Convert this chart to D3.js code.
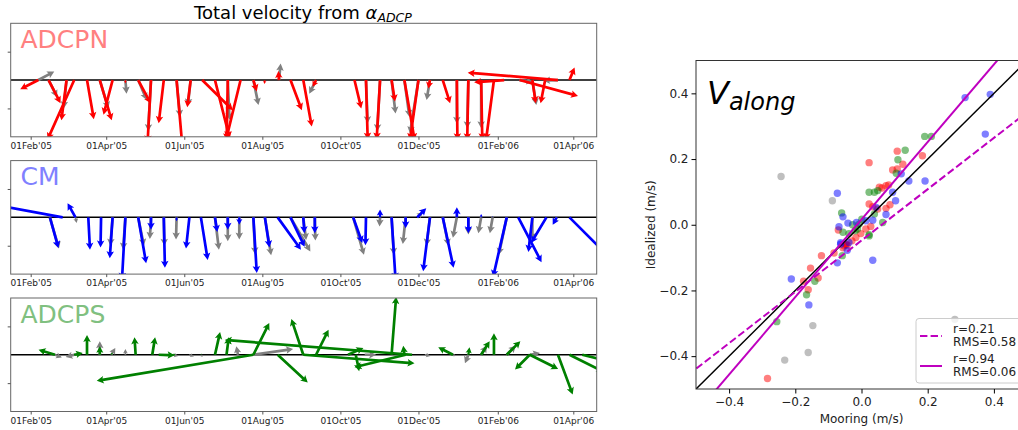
<!DOCTYPE html>
<html>
<head>
<meta charset="utf-8">
<script src="https://cdn.jsdelivr.net/npm/d3@7"></script>
<style>
  body { margin: 0; background: #fff; }
  svg { font-family: "DejaVu Sans", sans-serif; }
</style>
</head>
<body>
<div id="chart"></div>
<script>
// quiver records: [date, u, v]  (colored = idealized, gray = mooring)
var adcpnIdeal = [
  ["2005-02-07",-0.32,-0.16],["2005-02-15",0.21,-0.41],["2005-03-01",-0.09,-0.71],
  ["2005-03-07",-0.47,-1.05],["2005-03-17",0.12,-0.69],["2005-03-27",0.21,-0.71],
  ["2005-04-06",-0.16,-0.61],["2005-04-16",0.0,-0.06],["2005-04-26",0.22,-0.41],
  ["2005-05-06",-0.06,-1.1],["2005-05-16",-0.09,-0.76],["2005-05-26",0.1,-1.15],
  ["2005-06-06",-0.06,-0.48],["2005-06-15",0.54,-0.53],["2005-06-25",0.26,-1.03],
  ["2005-07-05",-0.02,-1.06],["2005-07-15",-0.25,-1.03],["2005-07-25",0.06,-0.2],
  ["2005-08-03",-0.01,-0.07],["2005-08-14",-0.01,0.16],["2005-08-23",0.2,-0.53],
  ["2005-09-02",0.15,-0.82],["2005-09-12",-0.06,-0.12],["2005-10-12",0.12,-0.5],
  ["2005-10-21",0.03,-1.05],["2005-11-01",-0.06,-1.05],["2005-11-10",0.06,-0.38],
  ["2005-11-20",0.18,-1.06],["2005-12-01",-0.15,-1.06],["2005-12-10",-0.03,-0.15],
  ["2005-12-20",0.13,-0.41],["2005-12-31",0.01,-1.06],["2006-01-09",-0.02,-1.06],
  ["2006-01-19",0.02,-1.06],["2006-01-29",-0.14,-1.06],["2006-02-06",-0.53,-0.04],
  ["2006-02-18",1.03,-0.28],["2006-02-28",0.06,-0.41],["2006-03-10",-0.08,-0.41],
  ["2006-03-20",-1.59,0.13],["2006-03-29",0.09,0.22]
];
var adcpnMoor = [
  ["2005-02-07",0.28,0.15],["2005-02-15",0.15,-0.3],["2005-03-01",-0.05,-0.5],
  ["2005-03-27",0.15,-0.5],["2005-04-16",0.02,-0.24],["2005-04-26",0.15,-0.35],
  ["2005-05-06",-0.05,-0.9],["2005-05-26",0.06,-0.65],["2005-06-06",-0.05,-0.45],
  ["2005-07-05",0.03,-0.7],["2005-07-25",0.09,-0.44],["2005-08-14",0.03,0.29],
  ["2005-09-12",-0.12,-0.24],["2005-10-21",0.03,-0.76],["2005-11-01",-0.05,-0.9],
  ["2005-11-10",0.07,-0.59],["2005-11-20",0.09,-0.65],["2005-12-01",-0.15,-0.94],
  ["2005-12-10",-0.06,-0.35],["2005-12-31",0.0,-0.77],["2006-01-09",-0.02,-0.85],
  ["2006-01-19",0.0,-0.85],["2006-02-06",-0.05,0.0],["2006-02-18",0.24,-0.03],
  ["2006-02-28",0.07,-0.44],["2006-03-20",-0.26,-0.01]
];
var cmIdeal = [
  ["2005-02-16",0.15,-0.54],["2005-02-26",-1.2,0.22],["2005-03-08",-0.14,0.25],
  ["2005-03-18",0.03,-0.57],["2005-03-28",-0.01,-0.53],["2005-04-06",-0.05,-0.72],
  ["2005-04-16",-0.06,-1.1],["2005-04-26",0.14,-0.81],["2005-05-06",0.0,-0.22],
  ["2005-05-16",0.02,-0.89],["2005-05-26",0.0,-0.07],["2005-06-05",-0.06,-0.55],
  ["2005-06-14",0.12,-0.75],["2005-06-25",0.04,-0.26],["2005-07-05",0.0,-0.22],
  ["2005-07-14",0.0,-0.13],["2005-07-25",0.06,-0.98],["2005-08-03",0.08,-0.53],
  ["2005-08-13",0.41,-0.57],["2005-08-23",0.25,-0.52],["2005-09-02",0.02,-0.28],
  ["2005-09-11",0.0,-0.28],["2005-10-11",0.16,-0.45],["2005-10-21",-0.01,-0.49],
  ["2005-11-01",0.0,0.14],["2005-11-10",0.07,-1.1],["2005-11-21",0.0,-0.19],
  ["2005-11-30",0.16,0.16],["2005-12-10",-0.12,-0.95],["2005-12-20",0.19,-0.89],
  ["2005-12-31",0.0,0.18],["2006-01-09",0.0,-0.28],["2006-01-19",0.0,0.06],
  ["2006-01-28",0.0,0.02],["2006-02-08",-0.24,-1.05],["2006-02-17",0.41,-0.79],
  ["2006-02-28",-0.07,-0.61],["2006-03-11",-0.27,-0.45],["2006-03-19",-0.07,-0.13],
  ["2006-03-29",0.6,-0.6]
];
var cmMoor = [
  ["2005-02-16",0.16,-0.55],["2005-03-08",0.02,-0.1],["2005-04-06",-0.04,-0.5],
  ["2005-04-16",-0.04,-0.57],["2005-04-26",0.1,-0.5],["2005-05-06",-0.02,-0.38],
  ["2005-05-16",0.01,-0.5],["2005-05-26",-0.01,-0.39],["2005-06-25",0.07,-0.57],
  ["2005-07-05",0.0,-0.42],["2005-07-14",0.0,-0.39],["2005-07-25",0.03,-0.65],
  ["2005-08-03",0.11,-0.67],["2005-08-23",0.35,-0.6],["2005-09-02",0.05,-0.4],
  ["2005-09-11",0.01,-0.41],["2005-10-11",0.19,-0.66],["2005-11-01",-0.01,-0.16],
  ["2005-11-10",0.04,-0.66],["2005-11-21",-0.05,-0.47],["2005-11-30",0.1,0.09],
  ["2005-12-10",-0.06,-0.5],["2005-12-20",0.1,-0.5],["2005-12-31",-0.07,-0.36],
  ["2006-01-09",0.0,-0.3],["2006-01-19",-0.05,-0.28],["2006-01-28",-0.05,-0.28],
  ["2006-02-08",-0.14,-0.66],["2006-02-28",0.0,-0.4],["2006-03-19",-0.06,-0.12]
];
var adcpsIdeal = [
  ["2005-02-20",-0.29,0.09],["2005-03-07",0.15,0.03],["2005-03-17",0.0,0.35],
  ["2005-03-27",0.0,0.15],["2005-04-05",0.02,0.04],["2005-04-24",-0.02,0.31],
  ["2005-05-07",0.05,0.31],["2005-05-12",0.28,-0.01],["2005-05-23",0.05,0.0],
  ["2005-06-14",0.01,0.02],["2005-06-25",0.09,0.4],["2005-07-04",0.04,0.31],
  ["2005-07-25",-2.76,-0.46],["2005-07-25",0.28,0.56],["2005-08-13",0.53,-0.49],
  ["2005-09-02",-0.21,0.63],["2005-09-02",1.96,-0.15],["2005-09-12",0.22,0.44],
  ["2005-10-07",0.27,0.12],["2005-10-13",0.06,-0.29],["2005-11-10",0.08,1.02],
  ["2005-11-20",-0.02,0.16],["2005-11-21",-0.9,-0.22],["2005-11-26",-3.3,0.26],
  ["2005-12-28",-0.26,0.13],["2006-01-09",0.02,0.13],["2006-01-19",0.15,0.24],
  ["2006-01-29",0.0,0.38],["2006-02-08",0.24,0.24],["2006-02-26",-0.26,-0.26],
  ["2006-02-26",0.5,-0.25],["2006-03-20",0.26,-0.7],["2006-03-29",0.6,-0.3],
  ["2006-04-08",0.4,-0.1]
];
var adcpsMoor = [
  ["2005-02-20",0.12,-0.05],["2005-03-07",-0.15,-0.04],["2005-03-27",0.0,0.24],
  ["2005-04-05",0.07,0.12],["2005-04-16",0.0,0.1],["2005-05-23",0.1,-0.02],
  ["2005-06-05",0.08,-0.03],["2005-06-14",0.03,-0.04],["2005-07-13",-0.03,0.15],
  ["2005-07-25",0.7,0.1],["2005-10-20",0.2,0.0],["2005-12-06",0.1,-0.02],
  ["2005-12-28",0.05,-0.02],["2006-01-09",-0.06,-0.15],["2006-01-19",0.1,0.16],
  ["2006-02-08",0.16,0.16],["2006-02-26",0.18,0.03]
];
var tickDates = ["2005-02-01","2005-04-01","2005-06-01","2005-08-01","2005-10-01",
                 "2005-12-01","2006-02-01","2006-04-01"];

// scatter: [mooring, idealized] along-channel velocity (m/s)
var grayPts = [[-0.243,0.147],[-0.088,0.073],[-0.147,-0.307],[0.282,-0.288],[-0.232,-0.412],[-0.161,-0.389]];
var redPts = [[0.108,0.224],[0.023,0.189],[0.184,0.21],[0.125,0.184],[0.094,0.167],[0.108,0.17],
  [0.062,0.112],[0.074,0.119],[0.054,0.114],[0.082,0.121],[0.023,0.063],[0.034,0.055],[0.049,0.048],
  [0.074,0.05],[0.086,0.061],[0.028,-0.005],[-0.07,-0.016],[-0.053,-0.064],[-0.046,-0.059],
  [-0.029,-0.049],[-0.017,-0.039],[-0.002,-0.027],[0.013,-0.013],[-0.048,-0.06],[-0.056,-0.07],
  [-0.043,-0.063],[-0.083,-0.086],[-0.121,-0.094],[-0.154,-0.132],[-0.131,-0.162],[-0.175,-0.172],
  [-0.161,-0.198],[-0.284,-0.468]];
var greenPts = [[0.191,0.269],[0.211,0.269],[0.132,0.227],[0.11,0.198],[0.105,0.157],[0.023,0.099],
  [0.039,0.099],[0.049,0.104],[0.064,0.007],[0.039,0.033],[0.023,-0.034],[-0.06,0.036],[-0.027,0],
  [-0.007,0.002],[0.001,0.017],[-0.056,-0.023],[-0.038,-0.027],[-0.019,-0.018],[-0.012,-0.013],
  [0.023,-0.03],[-0.058,-0.094],[-0.141,-0.172],[-0.166,-0.213],[-0.256,-0.295]];
var bluePts = [[-0.073,0.096],[0.313,0.387],[0.389,0.397],[0.374,0.276],[0.12,0.155],[0.143,0.133],
  [0.192,0.133],[0.094,0.099],[0.103,0.073],[0.044,0.053],[0.074,0.031],[0.034,0.014],[-0.056,0.024],
  [-0.068,-0.006],[-0.041,0.005],[-0.015,0.007],[0.013,0.012],[-0.063,-0.059],[-0.038,-0.054],
  [-0.063,-0.055],[-0.043,-0.078],[-0.073,-0.116],[0.034,-0.108],[-0.212,-0.165],[-0.159,-0.244]];

var fitR = [0.21, 0.94];
var fitRMS = [0.58, 0.06];
var fitSlope = [0.781, 1.18];
var fitIntercept = [-0.048, 0.016];
var scatterTicks = [-0.4, -0.2, 0, 0.2, 0.4];

var width = 1018, height = 430;
var parse = d3.timeParse("%Y-%m-%d");

var svg = d3.select("#chart").append("svg")
    .attr("width", width).attr("height", height);

// quiver arrow as a filled polygon
function arrowPath(x0, y0, x1, y1) {
  var dx = x1 - x0, dy = y1 - y0, L = Math.hypot(dx, dy);
  if (L < 0.5) return "";
  var s = Math.min(1, L / 9);
  var w = 2.7 * s, hw = 7.5 * s, hl = 7 * s, ha = 6 * s;
  var ux = dx / L, uy = dy / L, nx = -uy, ny = ux;
  var pts = [[0, -w / 2], [L - ha, -w / 2], [L - hl, -hw / 2], [L, 0],
             [L - hl, hw / 2], [L - ha, w / 2], [0, w / 2]];
  return "M" + pts.map(function (p) {
    return [(x0 + ux * p[0] + nx * p[1]).toFixed(2), (y0 + uy * p[0] + ny * p[1]).toFixed(2)].join(",");
  }).join("L") + "Z";
}

// ---------- left: three quiver panels ----------
var x = d3.scaleTime()
    .domain([parse("2005-02-01"), parse("2006-04-01")])
    .range([30.7, 573.3]);
var boxL = 10.7, boxR = 596.7, boxH = 113.5;

var panels = [
  {name: "ADCPN", top: 23.3, color: "#ff0000", light: "#ff8080", ideal: adcpnIdeal, moor: adcpnMoor},
  {name: "CM", top: 160.6, color: "#0000ff", light: "#8080ff", ideal: cmIdeal, moor: cmMoor},
  {name: "ADCPS", top: 298, color: "#008000", light: "#80c080", ideal: adcpsIdeal, moor: adcpsMoor}
];

panels.forEach(function (p, i) {
  var y = d3.scaleLinear().domain([-1, 1]).range([p.top + boxH, p.top]);
  var k = y(0) - y(1);
  var g = svg.append("g");

  svg.append("clipPath").attr("id", "clip" + i)
    .append("rect").attr("x", boxL).attr("y", p.top)
    .attr("width", boxR - boxL).attr("height", boxH);

  var inner = g.append("g").attr("clip-path", "url(#clip" + i + ")");

  inner.append("line")
    .attr("x1", boxL).attr("x2", boxR)
    .attr("y1", y(0)).attr("y2", y(0))
    .attr("stroke", "#000").attr("stroke-width", 1.5);

  inner.append("g").selectAll("path")
    .data(p.moor).enter().append("path")
    .attr("d", function (d) {
      var t = x(parse(d[0]));
      return arrowPath(t, y(0), t + d[1] * k, y(d[2]));
    })
    .attr("fill", "#808080");

  inner.append("g").selectAll("path")
    .data(p.ideal).enter().append("path")
    .attr("d", function (d) {
      var t = x(parse(d[0]));
      return arrowPath(t, y(0), t + d[1] * k, y(d[2]));
    })
    .attr("fill", p.color);

  g.append("rect")
    .attr("x", boxL).attr("y", p.top)
    .attr("width", boxR - boxL).attr("height", boxH)
    .attr("fill", "none").attr("stroke", "#666").attr("stroke-width", 1);

  g.append("text")
    .attr("x", 20.5).attr("y", p.top + 24.5)
    .attr("font-size", 25).attr("fill", p.light)
    .text(p.name);

  var xAxis = g.append("g")
    .attr("transform", "translate(0," + (p.top + boxH) + ")")
    .call(d3.axisBottom(x)
      .tickValues(tickDates.map(parse))
      .tickFormat(d3.timeFormat("%d%b'%y"))
      .tickSize(3).tickPadding(3));
  xAxis.select(".domain").remove();
  xAxis.selectAll("text").attr("font-size", 9).attr("font-family", "DejaVu Sans").attr("fill", "#222");
  xAxis.selectAll("line").attr("stroke", "#555");

  var yAxis = g.append("g")
    .attr("transform", "translate(" + boxL + ",0)")
    .call(d3.axisLeft(y).tickValues([-0.5, 0.5]).tickFormat("").tickSize(3));
  yAxis.select(".domain").remove();
  yAxis.selectAll("line").attr("stroke", "#555");
});

// title with math text
var title = svg.append("text")
    .attr("x", 303).attr("y", 18.5)
    .attr("text-anchor", "middle")
    .attr("font-size", 18).attr("fill", "#000");
title.append("tspan").text("Total velocity from ");
title.append("tspan").attr("font-style", "italic").text("α");
title.append("tspan").attr("font-style", "italic").attr("font-size", 12.5).attr("dy", 3).text("ADCP");

// ---------- right: scatter ----------
var sx = d3.scaleLinear().domain([-0.5, 0.5]).range([696, 1027]);
var sy = d3.scaleLinear().domain([-0.5, 0.5]).range([389, 60.5]);

svg.append("clipPath").attr("id", "clipS")
  .append("rect").attr("x", sx(-0.5)).attr("y", sy(0.5))
  .attr("width", sx(0.5) - sx(-0.5)).attr("height", sy(-0.5) - sy(0.5));

var sc = svg.append("g").attr("clip-path", "url(#clipS)");

var groups = [
  {pts: grayPts, color: "#808080"},
  {pts: redPts, color: "#ff0000"},
  {pts: greenPts, color: "#008000"},
  {pts: bluePts, color: "#0000ff"}
];
groups.forEach(function (gp) {
  sc.append("g").selectAll("circle")
    .data(gp.pts).enter().append("circle")
    .attr("cx", function (d) { return sx(d[0]); })
    .attr("cy", function (d) { return sy(d[1]); })
    .attr("r", 3.7)
    .attr("fill", gp.color).attr("fill-opacity", 0.5);
});

// 1:1 line
sc.append("line")
  .attr("x1", sx(-0.5)).attr("y1", sy(-0.5))
  .attr("x2", sx(0.5)).attr("y2", sy(0.5))
  .attr("stroke", "#000").attr("stroke-width", 1.5);

// regression lines
var fitDash = ["7.4,3.2", null];
fitSlope.forEach(function (m, i) {
  sc.append("line")
    .attr("x1", sx(-0.6)).attr("y1", sy(m * -0.6 + fitIntercept[i]))
    .attr("x2", sx(0.6)).attr("y2", sy(m * 0.6 + fitIntercept[i]))
    .attr("stroke", "#bf00bf").attr("stroke-width", 2)
    .attr("stroke-dasharray", fitDash[i]);
});

svg.append("rect")
  .attr("x", sx(-0.5)).attr("y", sy(0.5))
  .attr("width", sx(0.5) - sx(-0.5)).attr("height", sy(-0.5) - sy(0.5))
  .attr("fill", "none").attr("stroke", "#333").attr("stroke-width", 1);

var ax = svg.append("g")
  .attr("transform", "translate(0," + sy(-0.5) + ")")
  .call(d3.axisBottom(sx).tickValues(scatterTicks).tickFormat(d3.format(".1f")).tickSize(4.5).tickPadding(4));
ax.select(".domain").remove();
ax.selectAll("text").attr("font-size", 12).attr("font-family", "DejaVu Sans").attr("fill", "#222");

var ay = svg.append("g")
  .attr("transform", "translate(" + sx(-0.5) + ",0)")
  .call(d3.axisLeft(sy).tickValues(scatterTicks).tickFormat(d3.format(".1f")).tickSize(4.5).tickPadding(3));
ay.select(".domain").remove();
ay.selectAll("text").attr("font-size", 12).attr("font-family", "DejaVu Sans").attr("fill", "#222");

svg.append("text")
  .attr("x", sx(0)).attr("y", 423)
  .attr("text-anchor", "middle").attr("font-size", 12).attr("fill", "#222")
  .text("Mooring (m/s)");

svg.append("text")
  .attr("transform", "translate(655," + sy(0) + ") rotate(-90)")
  .attr("text-anchor", "middle").attr("font-size", 12).attr("fill", "#222")
  .text("Idealized (m/s)");

var vt = svg.append("text").attr("x", 707).attr("y", 103.5).attr("fill", "#000")
  .attr("font-style", "italic");
vt.append("tspan").attr("font-size", 32).text("V");
vt.append("tspan").attr("font-size", 24).attr("dy", 6.5).text("along");

// legend
var lg = svg.append("g");
lg.append("rect")
  .attr("x", 916).attr("y", 318.5).attr("width", 120).attr("height", 64.5)
  .attr("rx", 3)
  .attr("fill", "#fff").attr("fill-opacity", 0.8)
  .attr("stroke", "#ccc").attr("stroke-width", 1);
fitR.forEach(function (r, i) {
  var yy = 336 + i * 30;
  lg.append("line")
    .attr("x1", 920).attr("x2", 942).attr("y1", yy).attr("y2", yy)
    .attr("stroke", "#bf00bf").attr("stroke-width", 2)
    .attr("stroke-dasharray", fitDash[i]);
  var t = lg.append("text").attr("font-size", 12).attr("fill", "#222");
  t.append("tspan").attr("x", 953).attr("y", yy - 3.3).text("r=" + r.toFixed(2));
  t.append("tspan").attr("x", 953).attr("y", yy + 10.2).text("RMS=" + fitRMS[i].toFixed(2));
});
</script>
</body>
</html>
